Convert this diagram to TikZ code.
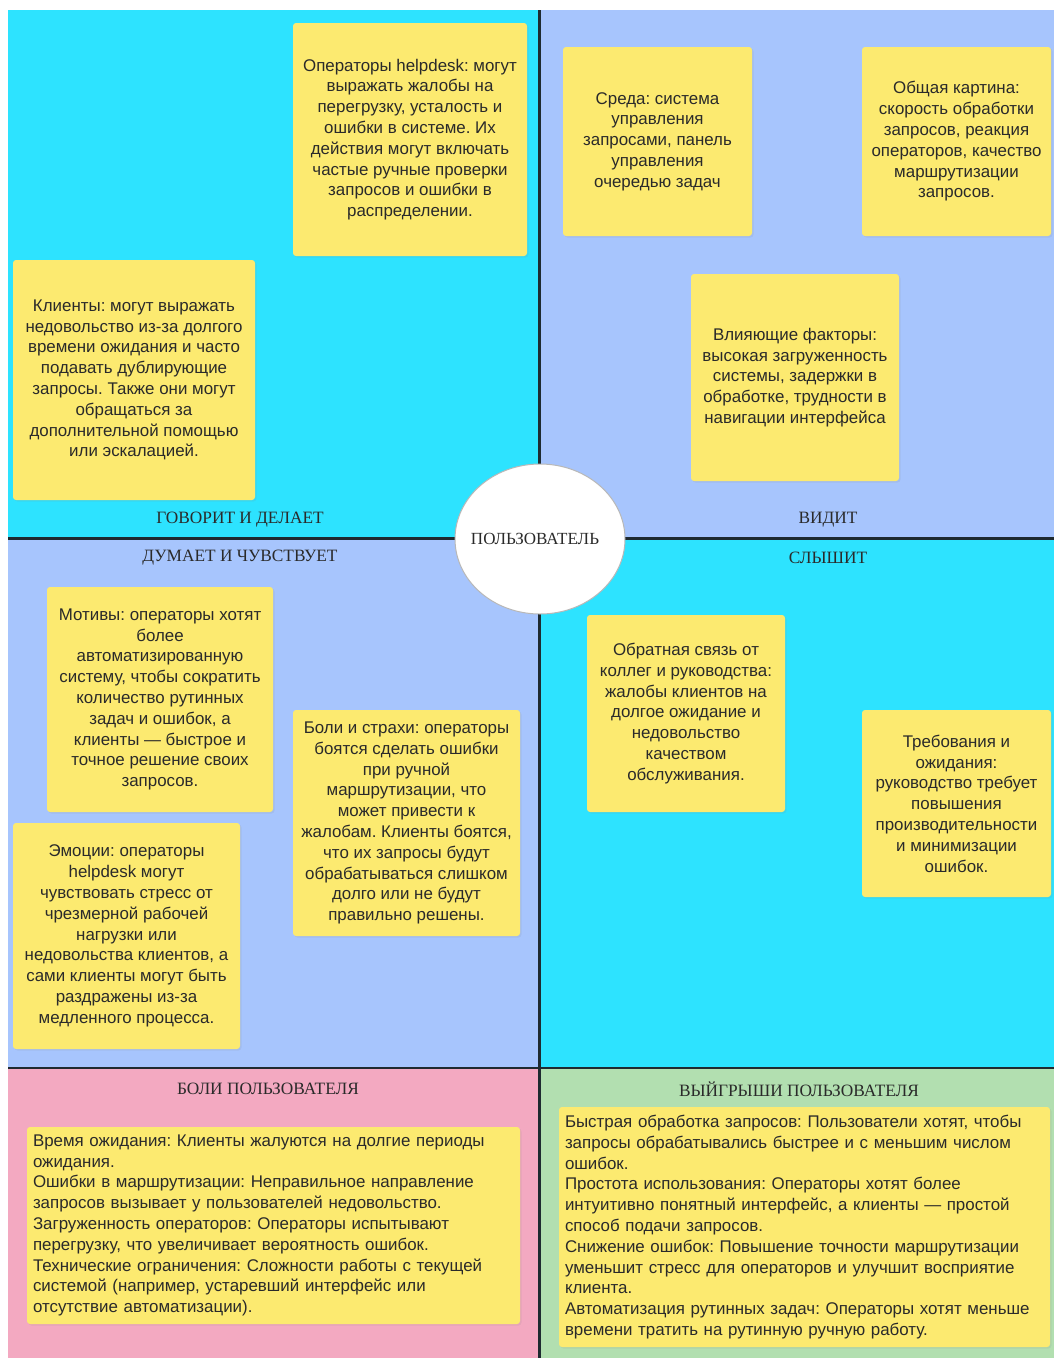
\documentclass[tikz,border=0pt]{standalone}
\usepackage{fontspec}
\usetikzlibrary{shadows,shapes.geometric}
\newfontfamily\notefont{Liberation Sans}
\newfontfamily\headfont{Liberation Serif}
\frenchspacing
\definecolor{cellcyan}{HTML}{2DE3FF}
\definecolor{cellblue}{HTML}{A7C5FD}
\definecolor{cellpink}{HTML}{F3A9C1}
\definecolor{cellgreen}{HTML}{B2DFB0}
\definecolor{noteyellow}{HTML}{FCEA70}
\definecolor{inktext}{HTML}{2A2A2A}
\definecolor{divider}{HTML}{1E2A30}
\tikzset{
  note/.style={fill=noteyellow, rounded corners=3pt, inner sep=0pt,
    align=center, text=inktext,
    font=\notefont\frenchspacing\fontsize{16.9}{20.8}\selectfont,
    drop shadow={opacity=0.12, shadow xshift=1.5pt, shadow yshift=-1.5pt}},
  box/.style 2 args={minimum width=#1, minimum height=#2},
  listnote/.style={note, align=left, text width=#1},
  heading/.style={text=inktext, inner sep=0pt,
    font=\headfont\fontsize{17.3}{19}\selectfont},
  divline/.style={draw=divider, line width=2.4pt},
}
\begin{document}
\begin{tikzpicture}[x=1pt,y=-1pt]
\useasboundingbox (0,0) rectangle (1054,1358);
\fill[white] (0,0) rectangle (1054,1358);

% quadrant backgrounds
\fill[cellcyan]  (8,10)    rectangle (539.5,538.5);
\fill[cellblue]  (539.5,10) rectangle (1054,538.5);
\fill[cellblue]  (8,538.5) rectangle (539.5,1068);
\fill[cellcyan]  (539.5,538.5) rectangle (1054,1068);
\fill[cellpink]  (8,1068)  rectangle (539.5,1358);
\fill[cellgreen] (539.5,1068) rectangle (1054,1358);

% dividing lines
\coordinate (vtop) at (539.5,10);
\coordinate (vbot) at (539.5,1358);
\coordinate (hmidl) at (8,538.5);
\coordinate (hmidr) at (1054,538.5);
\coordinate (hlowl) at (8,1068);
\coordinate (hlowr) at (1054,1068);
\draw[divline] (vtop) -- (vbot);
\draw[divline] (hmidl) -- (hmidr);
\draw[divline] (hlowl) -- (hlowr);

% section headings
\node[heading] (says)  at (240,520) {ГОВОРИТ И ДЕЛАЕТ};
\node[heading] (sees)  at (828,520) {ВИДИТ};
\node[heading] (thinks) at (240,558) {ДУМАЕТ И ЧУВСТВУЕТ};
\node[heading] (hears) at (828,558) {СЛЫШИТ};
\node[heading] (pains) at (268,1089) {БОЛИ ПОЛЬЗОВАТЕЛЯ};
\node[heading] (gains) at (799,1089) {ВЫЙГРЫШИ ПОЛЬЗОВАТЕЛЯ};

% says and does
\node[note, box={234pt}{233pt}] (operators) at (410,139.5)
  {Операторы helpdesk: могут\\выражать жалобы на\\перегрузку, усталость и\\ошибки в системе. Их\\действия могут включать\\частые ручные проверки\\запросов и ошибки в\\распределении.};
\node[note, box={242pt}{240pt}] (clients) at (134,380)
  {Клиенты: могут выражать\\недовольство из-за долгого\\времени ожидания и часто\\подавать дублирующие\\запросы. Также они могут\\обращаться за\\дополнительной помощью\\или эскалацией.};

% sees
\node[note, box={189pt}{189pt}] (environment) at (657.5,141.5)
  {Среда: система\\управления\\запросами, панель\\управления\\очередью задач};
\node[note, box={189pt}{189pt}] (bigpicture) at (956.5,141.5)
  {Общая картина:\\скорость обработки\\запросов, реакция\\операторов, качество\\маршрутизации\\запросов.};
\node[note, box={208pt}{207pt}] (factors) at (795,377.5)
  {Влияющие факторы:\\высокая загруженность\\системы, задержки в\\обработке, трудности в\\навигации интерфейса};

% thinks and feels
\node[note, box={226pt}{225pt}] (motives) at (160,699.5)
  {Мотивы: операторы хотят\\более\\автоматизированную\\систему, чтобы сократить\\количество рутинных\\задач и ошибок, а\\клиенты — быстрое и\\точное решение своих\\запросов.};
\node[note, box={227pt}{226pt}] (fears) at (406.5,823)
  {Боли и страхи: операторы\\боятся сделать ошибки\\при ручной\\маршрутизации, что\\может привести к\\жалобам. Клиенты боятся,\\что их запросы будут\\обрабатываться слишком\\долго или не будут\\правильно решены.};
\node[note, box={227pt}{226pt}] (emotions) at (126.5,936)
  {Эмоции: операторы\\helpdesk могут\\чувствовать стресс от\\чрезмерной рабочей\\нагрузки или\\недовольства клиентов, а\\сами клиенты могут быть\\раздражены из-за\\медленного процесса.};

% hears
\node[note, box={198pt}{197pt}] (feedback) at (686,713.5)
  {Обратная связь от\\коллег и руководства:\\жалобы клиентов на\\долгое ожидание и\\недовольство\\качеством\\обслуживания.};
\node[note, box={189pt}{187pt}] (demands) at (956.5,803.5)
  {Требования и\\ожидания:\\руководство требует\\повышения\\производительности\\и минимизации\\ошибок.};

% pains and gains
\node[listnote=481pt, box={493pt}{197pt}] (painlist) at (273.5,1225.5)
  {Время ожидания: Клиенты жалуются на долгие периоды\\ожидания.\\Ошибки в маршрутизации: Неправильное направление\\запросов вызывает у пользователей недовольство.\\Загруженность операторов: Операторы испытывают\\перегрузку, что увеличивает вероятность ошибок.\\Технические ограничения: Сложности работы с текущей\\системой (например, устаревший интерфейс или\\отсутствие автоматизации).};
\node[listnote=479pt, box={491pt}{240pt}] (gainlist) at (804.5,1227)
  {Быстрая обработка запросов: Пользователи хотят, чтобы\\запросы обрабатывались быстрее и с меньшим числом\\ошибок.\\Простота использования: Операторы хотят более\\интуитивно понятный интерфейс, а клиенты — простой\\способ подачи запросов.\\Снижение ошибок: Повышение точности маршрутизации\\уменьшит стресс для операторов и улучшит восприятие\\клиента.\\Автоматизация рутинных задач: Операторы хотят меньше\\времени тратить на рутинную ручную работу.};

% central persona
\node[ellipse, draw=black!28, line width=1pt, fill=white,
      minimum width=170pt, minimum height=150pt, inner sep=0pt,
      font=\headfont\fontsize{17}{19}\selectfont, text=inktext] (user) at (540,539)
  {\hspace*{-10pt}ПОЛЬЗОВАТЕЛЬ};
\end{tikzpicture}
\end{document}
